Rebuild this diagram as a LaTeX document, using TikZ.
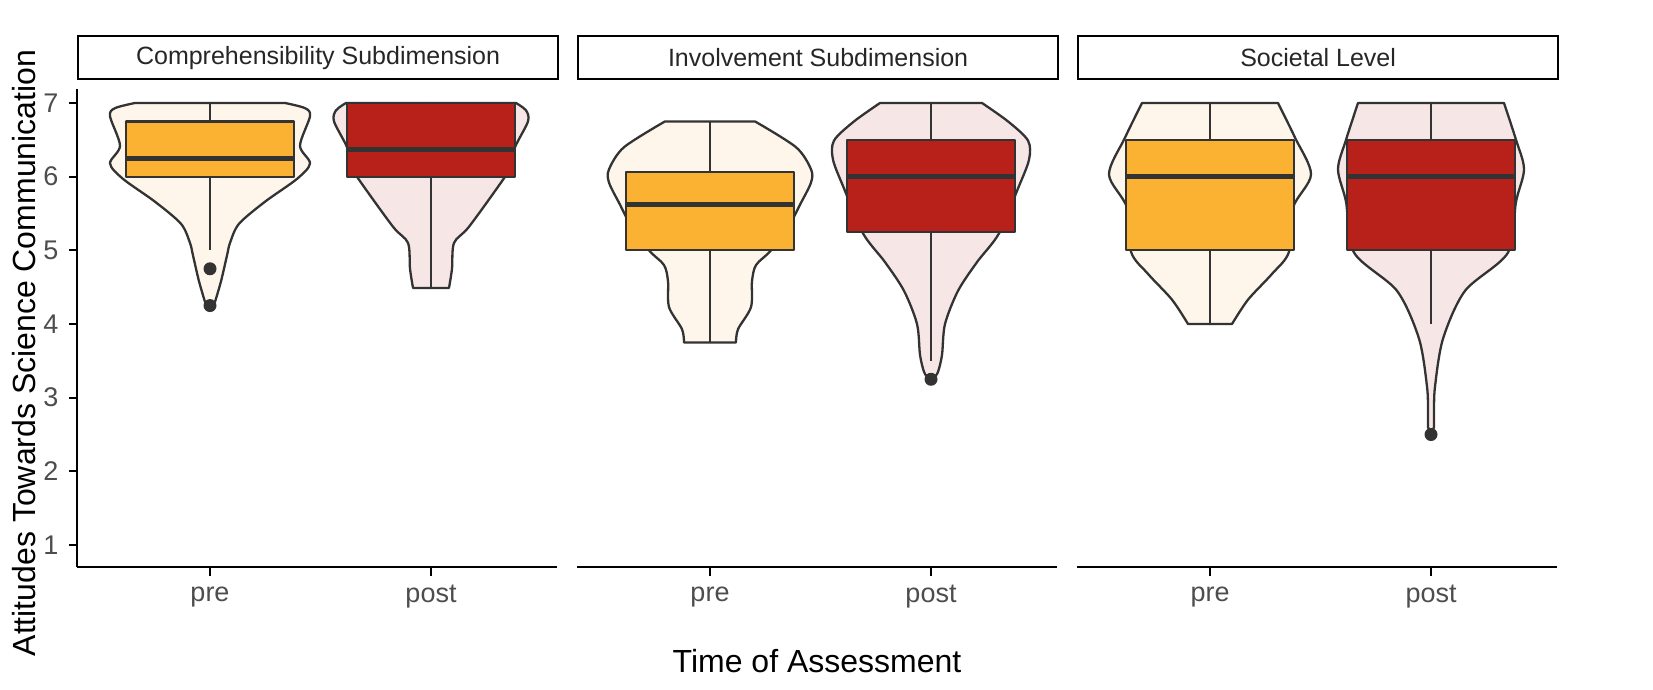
\documentclass[tikz,border=0pt]{standalone}
\usepackage{fontspec}
\setmainfont{Liberation Sans}
\definecolor{preV}{HTML}{FEF6EA}
\definecolor{postV}{HTML}{F7E6E6}
\definecolor{preB}{HTML}{FBB131}
\definecolor{postB}{HTML}{B8201A}
\definecolor{ln}{HTML}{333333}
\definecolor{tk}{HTML}{4D4D4D}
\tikzset{vline/.style={ln,line width=2.3pt,line join=round}}
\newcommand\vio[5]{%
 \fill[#1] (0,#2) -- plot[smooth] coordinates {#3} -- (0,#4) -- cycle;
 \begin{scope}[xscale=-1]\fill[#1] (0,#2) -- plot[smooth] coordinates {#3} -- (0,#4) -- cycle;\end{scope}
 \draw[vline] (0,#2) -- plot[smooth] coordinates {#3} -- (0,#4);
 \begin{scope}[xscale=-1]\draw[vline] (0,#2) -- plot[smooth] coordinates {#3} -- (0,#4);\end{scope}
 \def\tmp{#5}}
\newcommand\bx[6]{% fill, wlo, q1, med, q3, whi
 \draw[vline] (0,#2) -- (0,#3) (0,#5) -- (0,#6);
 \draw[vline,fill=#1] (-84,#3) rectangle (84,#5);
 \draw[ln,line width=5pt] (-84,#4) -- (84,#4);}
\begin{document}
\begin{tikzpicture}[x=1pt,y=1pt]
\useasboundingbox (0,0) rectangle (1653,689);
% strips
\foreach \px/\lab [count=\i] in {77/Comprehensibility Subdimension,577/Involvement Subdimension,1077/Societal Level}{
 \node[draw=black,line width=2.2pt,minimum width=480pt,minimum height=43pt,anchor=north west,inner sep=0pt,font=\fontsize{25}{28}\selectfont,text=black!85] (s\i) at (\px,654) {\lab};
 \draw[black,line width=2.2pt] (\px,122) -- (\px+480,122);
 \draw[black,line width=2pt] (\px+133,122) -- (\px+133,113) (\px+354,122) -- (\px+354,113);
 \node[font=\fontsize{27}{30}\selectfont,text=tk] (pre\i) at (\px+133,92) {pre};
 \node[font=\fontsize{27}{30}\selectfont,text=tk] (post\i) at (\px+354,92) {post};
}
% y axis
\draw[black,line width=2.2pt] (77,122) -- (77,600);
\foreach \v in {1,...,7}{
 \draw[black,line width=2pt] (69,70.31+73.67*\v) -- (77,70.31+73.67*\v);
 \node[anchor=east,font=\fontsize{27}{30}\selectfont,text=tk] (t\v) at (62,70.31+73.67*\v) {\v};
}
\node[rotate=90,font=\fontsize{32}{36}\selectfont] (yl) at (24,336) {Attitudes Towards Science Communication};
\node[font=\fontsize{32}{36}\selectfont] (xl) at (817,28) {Time of Assessment};
% panel 1
\begin{scope}[shift={(210,70.31)},yscale=73.67]
 \vio{preV}{7}{(75,7)(95,6.93)(100,6.82)(90,6.42)(100,6.18)(87,5.97)(55,5.66)(29,5.36)(20,5.1)(17,4.93)(11,4.58)(5,4.3)}{4.25}{}
 \bx{preB}{5}{6}{6.25}{6.75}{7}
 \fill[ln] (0,4.75) circle[x radius=6.5pt,y radius=6.5pt/73.67];
 \fill[ln] (0,4.25) circle[x radius=6.5pt,y radius=6.5pt/73.67];
\end{scope}
\begin{scope}[shift={(431,70.31)},yscale=73.67]
 \vio{postV}{7}{(85,7)(95,6.9)(97,6.75)(84,6.4)(78,6.1)(70,5.92)(38,5.32)(23,5.1)(21,4.75)(18,4.49)}{4.49}{}
 \bx{postB}{4.5}{6}{6.375}{7}{7}
\end{scope}
% panel 2
\begin{scope}[shift={(710,70.31)},yscale=73.67]
 \vio{preV}{6.75}{(45,6.75)(86,6.4)(101,6.1)(101,5.92)(90,5.62)(80,5.36)(61,5.0)(46,4.8)(42,4.58)(41,4.23)(28,3.93)(26,3.75)}{3.75}{}
 \bx{preB}{3.75}{5}{5.625}{6.0625}{6.75}
\end{scope}
\begin{scope}[shift={(931,70.31)},yscale=73.67]
 \vio{postV}{7}{(51,7)(77,6.75)(97,6.49)(98,6.23)(87,5.84)(68,5.23)(46,4.84)(27,4.45)(14,4.0)(11,3.58)(7,3.35)(3,3.27)}{3.25}{}
 \bx{postB}{3.5}{5.25}{6}{6.5}{7}
 \fill[ln] (0,3.25) circle[x radius=6.5pt,y radius=6.5pt/73.67];
\end{scope}
% panel 3
\begin{scope}[shift={(1210,70.31)},yscale=73.67]
 \vio{preV}{7}{(68,7)(85,6.53)(101,6.03)(83,5.58)(79,4.98)(62,4.68)(38,4.33)(22,4.0)}{4.0}{}
 \bx{preB}{4}{5}{6}{6.5}{7}
\end{scope}
\begin{scope}[shift={(1431,70.31)},yscale=73.67]
 \vio{postV}{7}{(73,7)(85,6.5)(93,6.1)(85,5.66)(77,4.97)(34,4.45)(12,3.8)(4,3.15)(3,2.8)(3,2.6)}{2.5}{}
 \bx{postB}{4}{5}{6}{6.5}{7}
 \fill[ln] (0,2.5) circle[x radius=6.5pt,y radius=6.5pt/73.67];
\end{scope}
\end{tikzpicture}
\end{document}
